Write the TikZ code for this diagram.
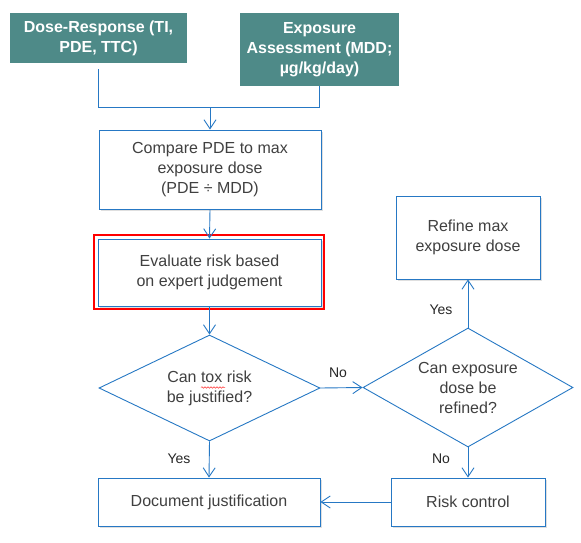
\documentclass[tikz,border=0pt]{standalone}
\usepackage{fontspec}
\setmainfont{Liberation Sans}
\usetikzlibrary{arrows.meta,shapes.geometric,shadows,decorations.pathmorphing}
\definecolor{teal1}{RGB}{78,138,136}
\definecolor{lineblue}{RGB}{38,120,196}
\definecolor{txtgray}{RGB}{64,64,64}
\begin{document}
\begin{tikzpicture}[x=1pt,y=-1pt,
  font=\fontsize{16}{20}\selectfont,
  srcbox/.style={rectangle,fill=teal1,text=white,font=\fontsize{16}{20}\selectfont\bfseries,align=center,inner sep=0pt},
  procbox/.style={rectangle,draw=lineblue,line width=0.9pt,fill=white,text=txtgray,align=center,inner sep=0pt,
    drop shadow={shadow xshift=1.5pt,shadow yshift=-2pt,opacity=0.25}},
  decbox/.style={diamond,draw=lineblue,line width=0.9pt,fill=white,text=txtgray,align=center,inner sep=0pt},
  conn/.style={draw=lineblue,line width=0.9pt},
  arr/.style={conn,-{Straight Barb[length=9pt,width=12pt,line width=0.9pt]}},
  lbl/.style={font=\fontsize{14}{16}\selectfont,text=black!85}
]
\useasboundingbox (0,0) rectangle (581,543);

\node[srcbox,minimum width=177pt,minimum height=50pt] (A) at (98.5,38) {Dose-Response (TI,\\PDE, TTC)};
\node[srcbox,minimum width=159pt,minimum height=73pt] (B) at (319.5,49.5) {Exposure\\Assessment (MDD;\\µg/kg/day)};

\node[procbox,minimum width=222pt,minimum height=79pt] (C) at (210,169.5) {\raisebox{-2pt}{\parbox{200pt}{\centering Compare PDE to max\\exposure dose\\(PDE ÷ MDD)}}};

\node[draw=red,line width=2.5pt,minimum width=230pt,minimum height=74pt,inner sep=0pt] (R) at (209,272) {};
\node[procbox,minimum width=223pt,minimum height=67pt] (E) at (209.5,272.5) {Evaluate risk based\\on expert judgement};

\node[decbox,aspect=2.08,minimum width=221pt,minimum height=106pt] (D1) at (209.5,388) {Can tox risk\\be justified?};
\node[decbox,aspect=1.76,minimum width=210pt,minimum height=119pt] (D2) at (468,387.5) {Can exposure\\dose be\\refined?};

\node[procbox,minimum width=144pt,minimum height=83pt] (F) at (468,237.5) {Refine max\\exposure dose};
\node[procbox,minimum width=222pt,minimum height=48pt] (G) at (209,502) {Document justification};
\node[procbox,minimum width=154pt,minimum height=48pt] (H) at (468,502) {Risk control};

\coordinate (j) at (210,107);
\draw[conn] ([yshift=-6pt]A.south) |- (j);
\draw[conn] (B.south) |- (j);
\draw[arr] (j) -- (C.north);
\draw[arr] (C.south) -- (E.north);
\draw[arr] (E.south) -- (D1.north);
\draw[arr] (D1.east) -- (D2.west);
\draw[arr] (D2.north) -- (F.south);
\draw[arr] (D1.south) -- (G.north);
\draw[arr] (D2.south) -- (H.north);
\draw[arr] (H.west) -- (G.east);

\node[lbl] (n1) at (338,373) {No};
\node[lbl] (y1) at (441,310) {Yes};
\node[lbl] (y2) at (179,459) {Yes};
\node[lbl] (n2) at (441,459) {No};

\coordinate (sq1) at (201,387.5);
\coordinate (sq2) at (225,387.5);
\draw[red!80,line width=0.5pt,decorate,decoration={snake,amplitude=0.8pt,segment length=3pt}] (sq1) -- (sq2);
\end{tikzpicture}
\end{document}
